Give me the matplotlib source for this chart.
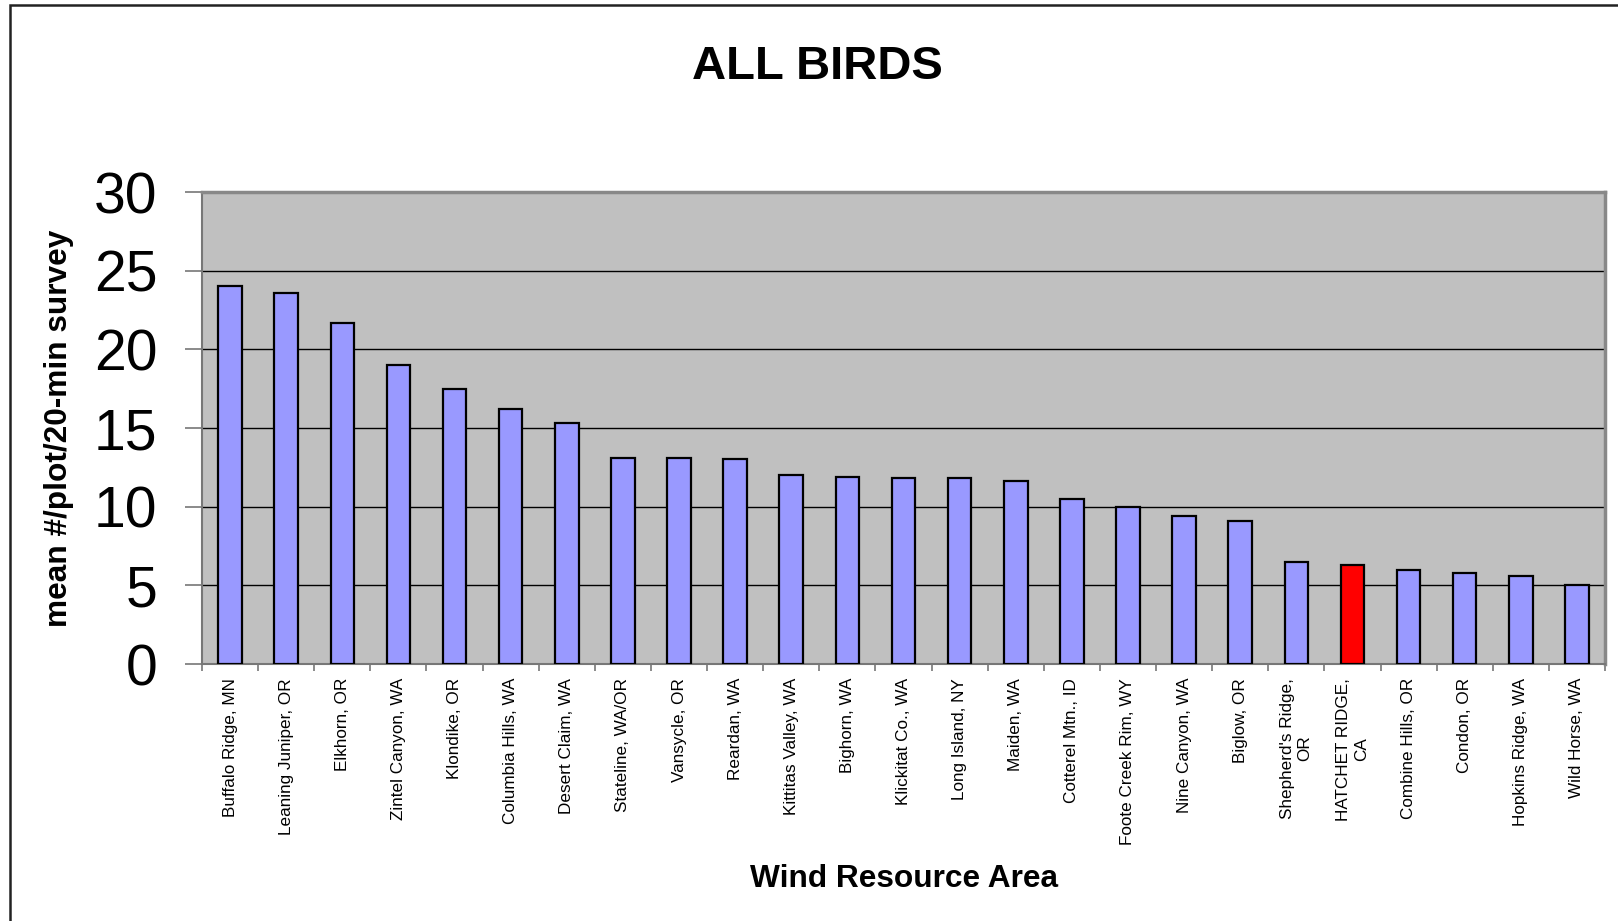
import numpy as np
import matplotlib
matplotlib.use('Agg')
import matplotlib.pyplot as plt
from matplotlib.patches import Rectangle

sites = ['Buffalo Ridge, MN', 'Leaning Juniper, OR', 'Elkhorn, OR', 'Zintel Canyon, WA',
         'Klondike, OR', 'Columbia Hills, WA', 'Desert Claim, WA', 'Stateline, WA/OR',
         'Vansycle, OR', 'Reardan, WA', 'Kittitas Valley, WA', 'Bighorn, WA',
         'Klickitat Co., WA', 'Long Island, NY', 'Maiden, WA', 'Cotterel Mtn., ID',
         'Foote Creek Rim, WY', 'Nine Canyon, WA', 'Biglow, OR', "Shepherd's Ridge,\nOR",
         'HATCHET RIDGE,\nCA', 'Combine Hills, OR', 'Condon, OR', 'Hopkins Ridge, WA',
         'Wild Horse, WA']
mean_birds = [24.05, 23.6, 21.7, 19.0, 17.5, 16.2, 15.3, 13.1, 13.1, 13.0, 12.0, 11.9,
              11.8, 11.8, 11.6, 10.5, 10.0, 9.4, 9.1, 6.5, 6.3, 6.0, 5.8, 5.6, 5.0]
highlight = 'HATCHET RIDGE,\nCA'

plt.rcParams['font.family'] = ['Liberation Sans', 'DejaVu Sans']

fig = plt.figure(figsize=(16.18, 9.21), dpi=100)
ax = fig.add_axes([202/1618, 1 - 664/921, (1605 - 202)/1618, (664 - 192)/921])

# chart area border (only left and top visible)
fig.patches.append(Rectangle((10/1618, -0.1), 1.2, 1 - 5.5/921 + 0.1,
                             transform=fig.transFigure, fill=False,
                             edgecolor='#222222', lw=1.8))

x = np.arange(len(sites))
colors = ['#FF0000' if s == highlight else '#9999FF' for s in sites]
ax.bar(x, mean_birds, width=0.42, color=colors, edgecolor='black', lw=1.6, zorder=3)

ax.set_facecolor('#C0C0C0')
ax.set_xlim(-0.5, len(sites) - 0.5)
ax.set_ylim(0, 30)
ax.set_yticks(range(0, 31, 5))
ax.yaxis.grid(True, color='black', lw=1.0, zorder=1)
ax.set_axisbelow(True)

ax.set_xticks(x)
ax.set_xticklabels(sites, rotation=90, fontsize=12.3, ha='center', va='top',
                   multialignment='center')
ax.set_xticks(np.arange(-0.5, len(sites)), minor=True)
ax.tick_params(axis='x', which='major', length=0, pad=10)
ax.tick_params(axis='x', which='minor', length=5, width=1.2, color='#777777')
ax.tick_params(axis='y', length=12, width=1.2, color='#777777', labelsize=41, pad=20)

for side in ['left', 'bottom']:
    ax.spines[side].set_color('#777777')
    ax.spines[side].set_linewidth(1.5)
for side in ['top', 'right']:
    ax.spines[side].set_color('#888888')
    ax.spines[side].set_linewidth(2.5)

ax.set_ylabel('mean #/plot/20-min survey', fontsize=22.8, fontweight='bold')
ax.yaxis.set_label_coords((74 - 202)/1403, 0.5)
fig.text(904/1618, 1 - 879/921, 'Wind Resource Area', fontsize=22.8, fontweight='bold',
         ha='center', va='center')
fig.text(817/1618, 1 - 67/921, 'ALL BIRDS', fontsize=34, fontweight='bold',
         ha='center', va='center')

fig.savefig('out.png', dpi=100)
